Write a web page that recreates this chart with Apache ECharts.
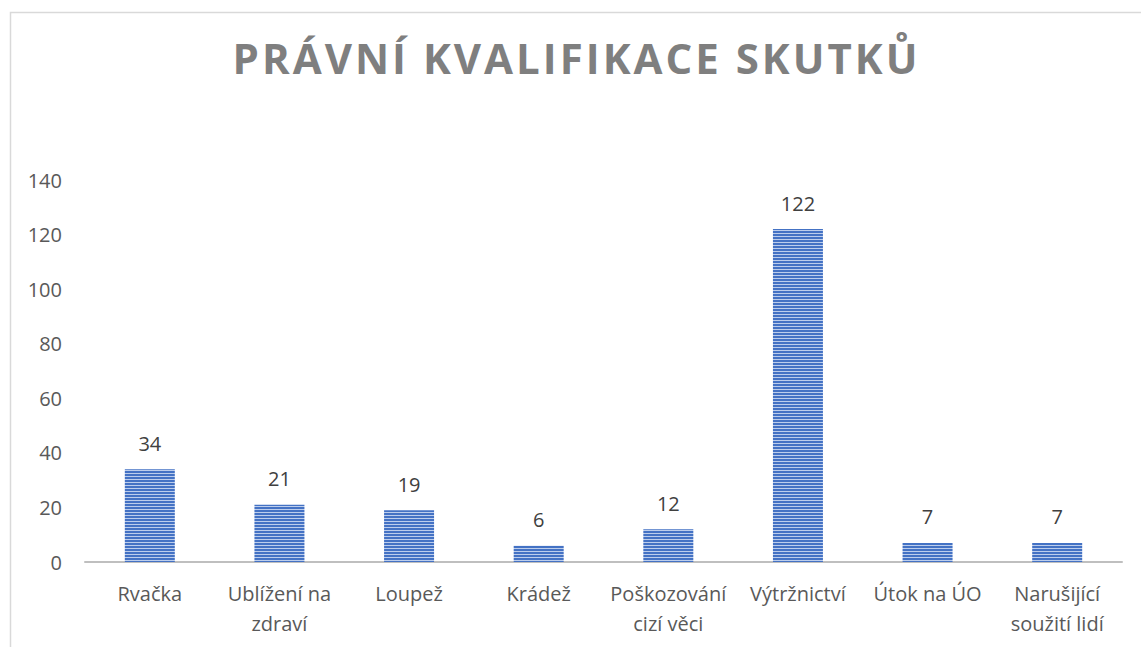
<!DOCTYPE html>
<html>
<head>
<meta charset="utf-8">
<script src="https://cdn.jsdelivr.net/npm/echarts@6/dist/echarts.min.js"></script>
<style>
  html, body { margin: 0; padding: 0; background: #fff; }
  #main { width: 1141px; height: 647px; }
</style>
</head>
<body>
<div id="main"></div>
<script>
// data
const titleText = 'PRÁVNÍ KVALIFIKACE SKUTKŮ'
const categories = ['Rvačka', 'Ublížení na\nzdraví', 'Loupež', 'Krádež', 'Poškozování\ncizí věci', 'Výtržnictví', 'Útok na ÚO', 'Narušijící\nsoužití lidí']
const counts = [34, 21, 19, 6, 12, 122, 7, 7]
const yTicks = [0, 20, 40, 60, 80, 100, 120, 140]

// striped fill like the excel pattern
function stripes() {
  const c = document.createElement('canvas')
  c.width = 4
  c.height = 3
  const ctx = c.getContext('2d')
  ctx.fillStyle = '#4472C4'
  ctx.fillRect(0, 0, 4, 3)
  ctx.fillStyle = '#BCCDEC'
  ctx.fillRect(0, 2, 4, 1)
  return c
}

const font = '"Open Sans", "Noto Sans", sans-serif'
let myChart = echarts.init(document.getElementById('main'), null, { renderer: 'svg' })

let option = {
  animation: false,
  title: {
    text: titleText,
    left: 'center',
    top: 31,
    textStyle: { fontFamily: font, fontSize: 42, fontWeight: 'bold', color: '#7F7F7F' }
  },
  graphic: [{
    type: 'rect',
    left: 8,
    top: 10,
    shape: { x: 0, y: 0, width: 1300, height: 800 },
    style: { fill: 'none', stroke: '#D9D9D9', lineWidth: 1.5 },
    silent: true
  }],
  grid: { left: 85, right: 19, top: 180, bottom: 85 },
  xAxis: {
    type: 'category',
    data: categories,
    axisTick: { show: false },
    axisLine: { lineStyle: { color: '#BFBFBF', width: 2 } },
    axisLabel: { fontFamily: font, fontSize: 20, color: '#595959', lineHeight: 30, margin: 16, interval: 0 }
  },
  yAxis: {
    type: 'value',
    min: yTicks[0],
    max: yTicks[yTicks.length - 1],
    interval: yTicks[1] - yTicks[0],
    splitLine: { show: false },
    axisLine: { show: false },
    axisLabel: { fontFamily: font, fontSize: 20, color: '#595959', margin: 23 }
  },
  series: [{
    type: 'bar',
    data: counts,
    barWidth: 50,
    itemStyle: { color: { image: stripes(), repeat: 'repeat' } },
    label: { show: true, position: 'top', distance: 16, fontFamily: font, fontSize: 20, color: '#404040' }
  }]
}
myChart.setOption(option)

// letter spacing for title (svg text), keep it centred
function spaceTitle() {
  document.querySelectorAll('#main svg text').forEach(t => {
    if (t.textContent !== titleText || t.getAttribute('letter-spacing')) return
    const b = t.getBBox()
    t.setAttribute('text-anchor', 'middle')
    t.setAttribute('x', b.x + b.width / 2 + 6)
    t.setAttribute('letter-spacing', '3')
  })
}
spaceTitle()
myChart.on('finished', spaceTitle)
</script>
</body>
</html>
